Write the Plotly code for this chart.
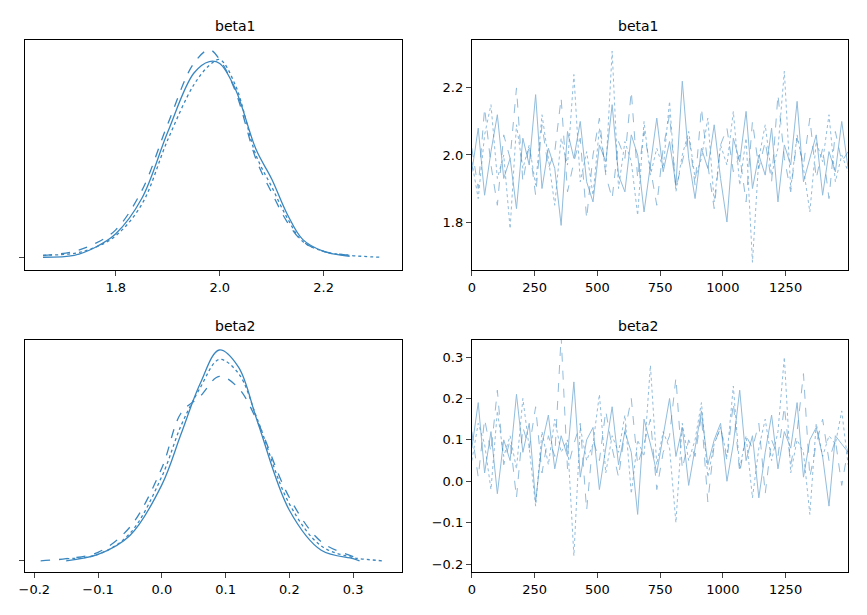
import numpy as np
import plotly.graph_objects as go

C = "#3a87c0"
# KDE curves (relative density)
b1_x = [1.66,1.72,1.76,1.80,1.85,1.90,1.95,1.98,2.00,2.03,2.07,2.10,2.13,2.16,2.20,2.25,2.31]
b1_d = {
 "solid": [0.0,0.01,0.05,0.12,0.30,0.64,0.94,1.00,0.99,0.86,0.55,0.40,0.22,0.09,0.03,0.005,None],
 "dash":  [0.01,0.03,0.07,0.14,0.34,0.68,0.99,1.06,1.01,0.85,0.50,0.33,0.18,0.08,0.03,0.01,None],
 "dot":   [0.01,0.02,0.05,0.11,0.27,0.60,0.88,0.98,1.01,0.88,0.52,0.36,0.20,0.08,0.03,0.01,0.0],
}
b2_x = [-0.19,-0.15,-0.10,-0.05,0.00,0.03,0.06,0.09,0.12,0.15,0.20,0.25,0.30,0.31,0.345]
b2_d = {
 "solid": [None,0.0,0.03,0.12,0.36,0.60,0.84,1.00,0.92,0.66,0.24,0.05,0.01,0.0,None],
 "dash":  [0.0,0.01,0.04,0.16,0.44,0.70,0.78,0.875,0.82,0.66,0.30,0.09,0.02,0.01,None],
 "dot":   [None,0.01,0.03,0.13,0.40,0.64,0.82,0.955,0.89,0.67,0.27,0.07,0.015,0.01,0.0],
}
# Trace samples (subsampled, read approximately)
b1_tr = {
 "solid": [1.95,2.08,1.88,2.01,2.12,1.93,1.99,1.84,2.05,1.97,2.18,1.90,2.02,1.96,1.79,2.07,1.99,2.10,1.92,1.86,2.03,1.98,2.15,1.94,1.89,2.06,2.00,1.83,1.97,2.11,1.95,2.04,1.91,2.22,1.99,1.87,2.02,1.96,2.09,1.93,1.80,2.05,1.98,2.13,1.90,2.00,1.94,2.08,1.86,2.03,1.97,2.16,1.92,1.99,2.06,1.88,2.01,1.95,2.10,1.96],
 "dash":  [2.02,1.90,2.14,1.97,1.85,2.06,1.99,2.20,1.92,2.03,1.88,2.09,1.96,2.01,2.17,1.89,1.98,2.05,1.81,2.00,2.11,1.94,1.87,2.04,1.99,2.19,1.93,2.07,1.96,1.85,2.02,2.12,1.90,1.98,2.06,1.91,2.14,1.97,1.84,2.03,2.08,1.95,2.00,1.86,2.10,1.96,2.04,1.92,2.18,1.99,1.89,2.05,1.97,2.11,1.93,2.02,1.87,2.07,1.98,2.01],
 "dot":   [1.98,1.87,2.06,2.15,1.93,2.00,1.78,2.09,1.96,2.03,1.91,2.12,1.99,1.85,2.05,1.97,2.24,1.92,2.01,1.88,2.08,1.95,2.31,1.90,2.04,1.98,1.82,2.10,1.94,2.02,1.96,2.16,1.89,2.00,2.07,1.93,1.99,2.11,1.86,2.03,1.97,2.13,1.91,2.05,1.68,1.99,2.09,1.94,2.02,2.25,1.90,2.06,1.96,1.83,2.04,1.98,2.12,1.92,2.00,1.95],
}
b2_tr = {
 "solid": [0.08,0.19,0.02,0.12,-0.03,0.10,0.05,0.21,0.07,0.14,-0.05,0.09,0.16,0.03,0.11,0.06,0.24,0.01,0.10,0.13,-0.02,0.08,0.18,0.04,0.12,0.07,-0.08,0.15,0.09,0.02,0.11,0.20,0.06,0.13,-0.01,0.08,0.17,0.04,0.10,0.14,0.00,0.09,0.22,0.05,0.11,-0.04,0.07,0.16,0.03,0.12,0.08,0.19,0.01,0.10,0.13,0.06,-0.06,0.11,0.09,0.07],
 "dash":  [0.12,0.01,0.15,0.07,0.22,0.04,0.10,-0.04,0.13,0.08,0.18,0.02,0.11,0.06,0.35,0.03,0.09,0.14,-0.07,0.10,0.05,0.17,0.08,0.01,0.12,0.20,0.04,0.09,0.15,-0.02,0.07,0.11,0.25,0.03,0.10,0.06,0.16,-0.05,0.09,0.13,0.05,0.19,0.02,0.11,0.08,0.14,-0.03,0.10,0.06,0.18,0.04,0.12,0.26,0.01,0.09,0.15,0.05,0.10,-0.01,0.08],
 "dot":   [0.05,0.14,0.09,-0.02,0.17,0.06,0.11,0.03,0.20,0.08,-0.06,0.12,0.04,0.15,0.07,0.10,-0.18,0.13,0.05,0.09,0.21,0.02,0.11,0.07,0.16,-0.03,0.10,0.06,0.28,0.04,0.12,0.08,-0.10,0.14,0.05,0.10,0.19,0.01,0.09,0.13,0.06,0.23,0.03,0.11,-0.04,0.08,0.15,0.05,0.12,0.30,0.02,0.10,0.07,-0.08,0.14,0.06,0.11,0.09,0.17,0.04],
}

fig = go.Figure()
def add(xs, ys, dash, xa, ya, op=1.0, w=1.3, shape="spline"):
    fig.add_trace(go.Scatter(x=xs, y=ys, mode="lines", line=dict(color=C, dash=dash, width=w, shape=shape),
                             opacity=op, xaxis=xa, yaxis=ya, showlegend=False, hoverinfo="skip", connectgaps=False))
for k in ["solid","dash","dot"]:
    add(b1_x, b1_d[k], k, "x", "y")
    add(b2_x, b2_d[k], k, "x3", "y3")
    add(np.linspace(0,1499,len(b1_tr[k])), b1_tr[k], k, "x2", "y2", 0.55, 1, "linear")
    add(np.linspace(0,1499,len(b2_tr[k])), b2_tr[k], k, "x4", "y4", 0.55, 1, "linear")

ax = dict(showline=True, mirror=True, linecolor="black", linewidth=1, ticks="outside", automargin=False,
          showgrid=False, zeroline=False, tickfont=dict(size=13, color="black"))
xl, xr = [0.02,0.454], [0.535,0.969]
yt, yb = [0.574,0.948], [0.083,0.46]
lay = dict(
 xaxis=dict(ax, domain=xl, anchor="y", range=[1.626,2.35], tickvals=[1.8,2.0,2.2], ticktext=["1.8","2.0","2.2"]),
 yaxis=dict(ax, domain=yt, anchor="x", range=[-0.065,1.11], showticklabels=False, tickvals=[0]),
 xaxis2=dict(ax, domain=xr, anchor="y2", range=[0,1499], tickvals=[0,250,500,750,1000,1250]),
 yaxis2=dict(ax, domain=yt, anchor="x2", range=[1.657,2.343], tickvals=[1.8,2.0,2.2], ticktext=["1.8","2.0","2.2"]),
 xaxis3=dict(ax, domain=xl, anchor="y3", range=[-0.214,0.376], tickvals=[-0.2,-0.1,0,0.1,0.2,0.3], ticktext=["−0.2","−0.1","0.0","0.1","0.2","0.3"]),
 yaxis3=dict(ax, domain=yb, anchor="x3", range=[-0.053,1.047], showticklabels=False, tickvals=[0]),
 xaxis4=dict(ax, domain=xr, anchor="y4", range=[0,1499], tickvals=[0,250,500,750,1000,1250]),
 yaxis4=dict(ax, domain=yb, anchor="x4", range=[-0.219,0.341], tickvals=[-0.2,-0.1,0,0.1,0.2,0.3], ticktext=["−0.2","−0.1","0.0","0.1","0.2","0.3"]),
)
ann = []
for x, y, t in [(sum(xl)/2, yt[1], "beta1"), (sum(xr)/2, yt[1], "beta1"), (sum(xl)/2, yb[1], "beta2"), (sum(xr)/2, yb[1], "beta2")]:
    ann.append(dict(x=x, y=y, xref="paper", yref="paper", text=t, showarrow=False, yanchor="bottom", yshift=4, font=dict(size=14, color="black")))
fig.update_layout(**lay, annotations=ann, width=867, height=615, margin=dict(l=0, r=0, t=0, b=0),
                  plot_bgcolor="white", paper_bgcolor="white", font=dict(family="DejaVu Sans"))
fig.write_html("out.html")
